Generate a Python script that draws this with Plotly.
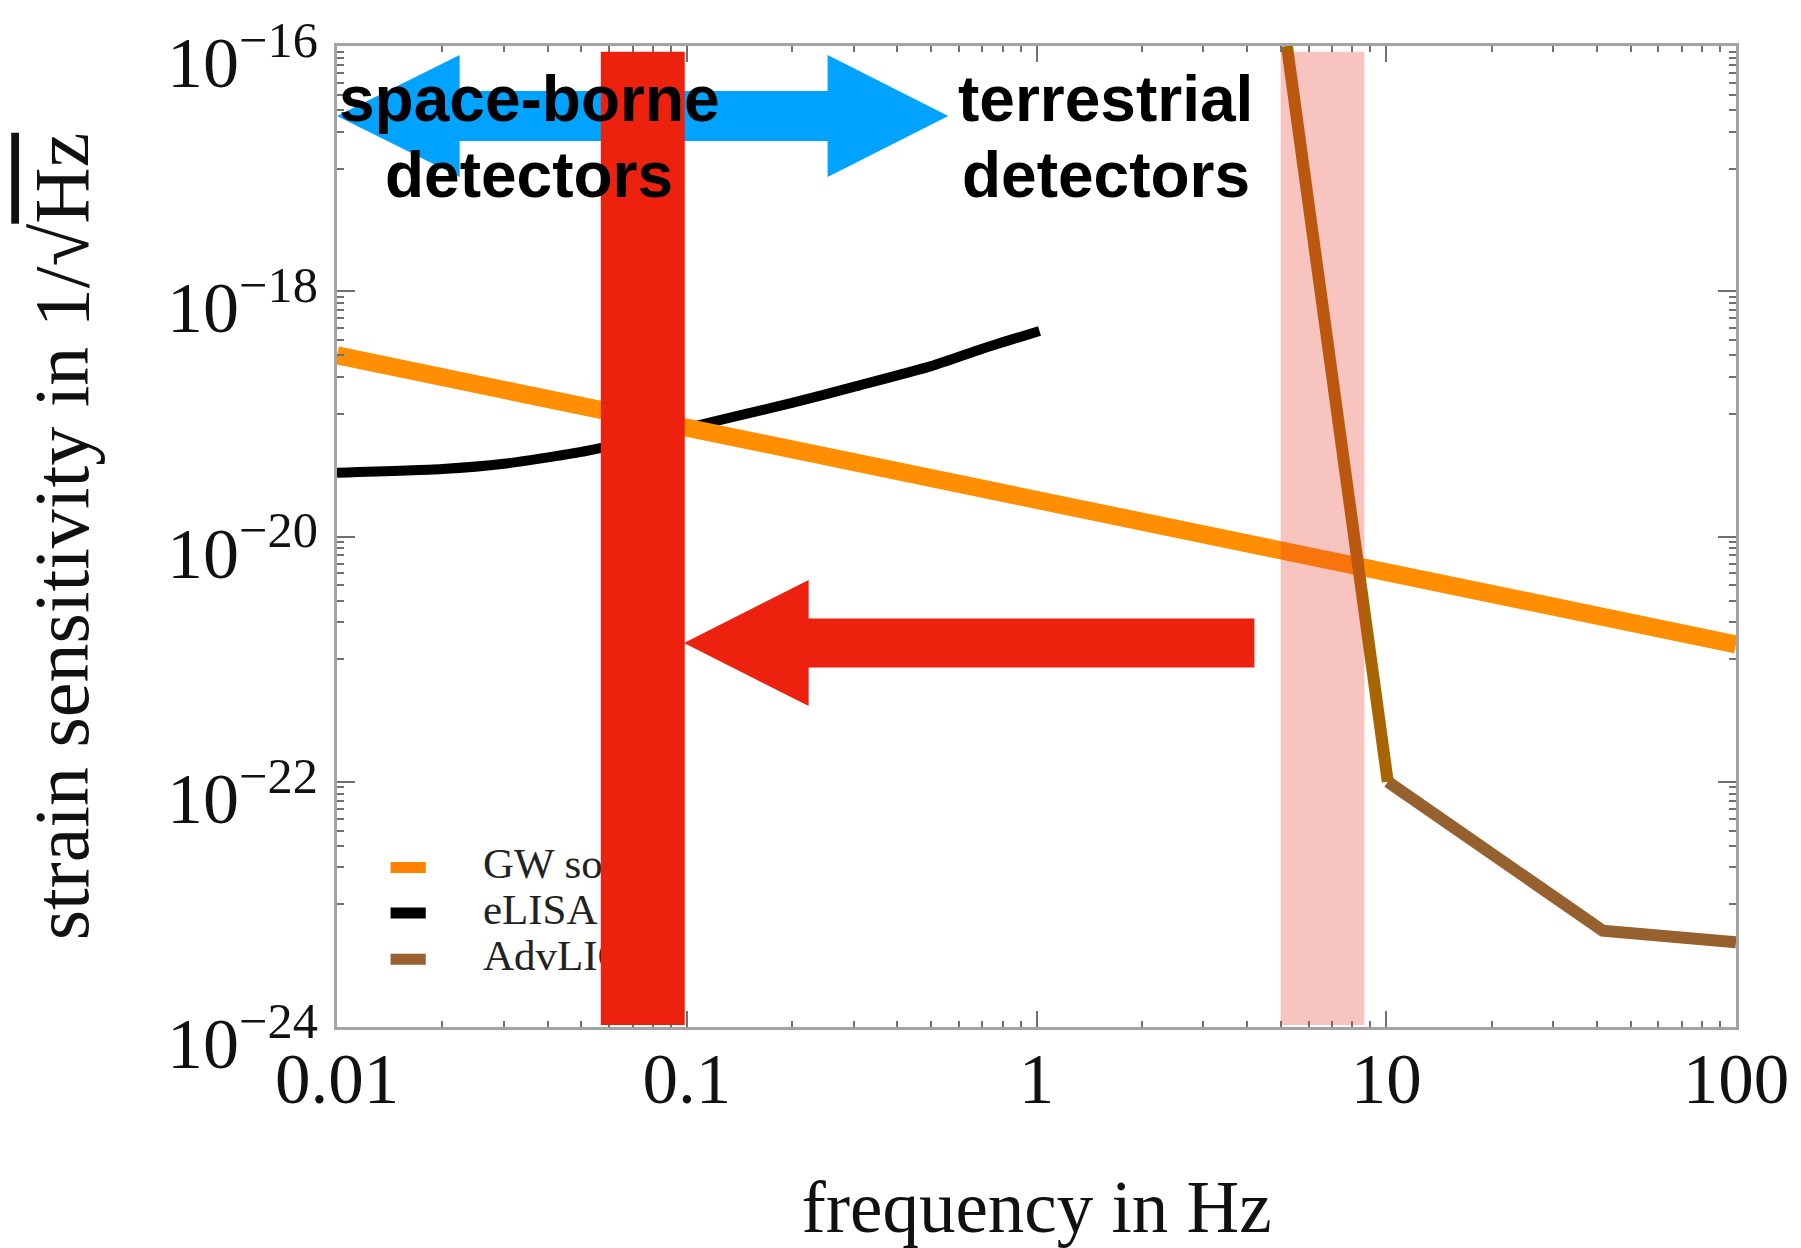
import plotly.graph_objects as go

# ---------------- data ----------------
gw_freq = [0.01, 0.1, 1, 10, 100]
gw_strain = [3.0e-19, 7.7e-20, 2.0e-20, 5.1e-21, 1.32e-21]

elisa_freq = [0.01, 0.02, 0.03, 0.05, 0.07, 0.1, 0.2, 0.3, 0.5, 0.7, 1.02]
elisa_strain = [3.31e-20, 3.55e-20, 3.92e-20, 4.9e-20, 6.03e-20, 7.67e-20,
                1.23e-19, 1.66e-19, 2.45e-19, 3.39e-19, 4.75e-19]

advligo_freq = [5.2, 10.1, 41.6, 100]
advligo_strain = [1.0e-16, 1.0e-22, 6.1e-24, 4.9e-24]

space_band = [0.0568, 0.0987]     # red highlighted band (Hz)
ground_band = [4.99, 8.66]        # pink band (Hz)

series_names = ["GW source", "eLISA", "AdvLIGO"]

x_tickvals = [0.01, 0.1, 1, 10, 100]
x_ticktext = ["0.01", "0.1", "1", "10", "100"]
y_tickvals = [1e-24, 1e-22, 1e-20, 1e-18, 1e-16]
y_ticktext = ["10<sup>\u221224</sup>", "10<sup>\u221222</sup>", "10<sup>\u221220</sup>",
              "10<sup>\u221218</sup>", "10<sup>\u221216</sup>"]

x_minor = [k * 10.0 ** n for n in (-2, -1, 0, 1) for k in range(2, 10)]
y_minor = [k * 10.0 ** n for n in (-17, -19, -21, -23) for k in range(1, 10)]

# ---------------- styling ----------------
W, H = 1801, 1248
ML, MR, MT, MB = 337, 61, 46, 221
PW, PH = W - ML - MR, H - MT - MB

def px(x):
    return (x - ML) / PW

def py(y):
    return (H - MB - y) / PH

ORANGE = "#FF8F00"
ORANGE_KEY = "#FF8000"
BROWN_STEEP = "#A86400"
BROWN = "#97602F"
RED = "#ED220E"
BLUE = "#00A3FF"
SERIF = "Liberation Serif"
SANS = "Liberation Sans"

fig = go.Figure()

fig.add_trace(go.Scatter(x=elisa_freq, y=elisa_strain, mode="lines", name=series_names[1],
                         line=dict(color="#000000", width=10, shape="spline", smoothing=0.6),
                         showlegend=False))
fig.add_trace(go.Scatter(x=gw_freq, y=gw_strain, mode="lines", name=series_names[0],
                         line=dict(color=ORANGE, width=18), showlegend=False))
fig.add_trace(go.Scatter(x=advligo_freq[1:], y=advligo_strain[1:], mode="lines", name=series_names[2],
                         line=dict(color=BROWN, width=12), showlegend=False))
fig.add_trace(go.Scatter(x=advligo_freq[:2], y=advligo_strain[:2], mode="lines", name=series_names[2],
                         line=dict(color=BROWN_STEEP, width=12), showlegend=False))

# manual legend (drawn as traces so the red band can cover it, as in the reference)
key_x = [0.01423, 0.01794]
key_text_x = 0.02613
key_rows = [2.0e-23, 8.5e-24, 3.57e-24]
key_colors = [ORANGE_KEY, "#000000", "#9B6030"]
for name, yk, col in zip(series_names, key_rows, key_colors):
    fig.add_trace(go.Scatter(x=key_x, y=[yk, yk], mode="lines", line=dict(color=col, width=11),
                             showlegend=False, hoverinfo="skip"))
fig.add_trace(go.Scatter(x=[key_text_x] * 3, y=key_rows, mode="text", text=series_names,
                         textposition="middle right",
                         textfont=dict(family=SERIF, size=43, color="#222222"),
                         showlegend=False, hoverinfo="skip"))

shapes = []
# pink band (semi-transparent, above the curves)
shapes.append(dict(type="rect", xref="x", yref="paper", x0=ground_band[0], x1=ground_band[1],
                   y0=py(1025), y1=py(51.7), fillcolor="rgba(232,58,48,0.30)",
                   line=dict(width=0), layer="above"))

# blue double arrow
cy, hh, sh = 116, 61, 25
blue_pts = [(337, cy), (460, cy - hh), (460, cy - sh), (829, cy - sh), (829, cy - hh), (950, cy),
            (829, cy + hh), (829, cy + sh), (460, cy + sh), (460, cy + hh)]
path = "M " + " L ".join(f"{px(a):.5f},{py(b):.5f}" for a, b in blue_pts) + " Z"
shapes.append(dict(type="path", xref="paper", yref="paper", path=path, fillcolor=BLUE,
                   line=dict(width=0), layer="above"))

# red band
shapes.append(dict(type="rect", xref="x", yref="paper", x0=space_band[0], x1=space_band[1],
                   y0=py(1025), y1=py(51.7), fillcolor=RED, line=dict(width=0), layer="above"))

# red arrow
cy, hh, sh = 643, 63, 24.5
red_pts = [(685, cy), (810, cy - hh), (810, cy - sh), (1257, cy - sh), (1257, cy + sh),
           (810, cy + sh), (810, cy + hh)]
path = "M " + " L ".join(f"{px(a):.5f},{py(b):.5f}" for a, b in red_pts) + " Z"
shapes.append(dict(type="path", xref="paper", yref="paper", path=path, fillcolor=RED,
                   line=dict(width=0), layer="above"))

# bold labels
FS = 64
def mid(baseline):
    return py(baseline - 0.3465 * FS)

annotations = []
for text, xc, base in [("space-borne", 530, 121), ("detectors", 530, 197),
                       ("terrestrial", 1108, 121), ("detectors", 1108, 197)]:
    annotations.append(dict(text=text, xref="paper", yref="paper", x=px(xc), y=mid(base),
                            xanchor="center", yanchor="middle", showarrow=False,
                            font=dict(family=SANS, size=FS, color="#000000", weight="bold")))

axis_common = dict(showgrid=False, zeroline=False, showline=True, linecolor="#a3a3a3",
                   linewidth=2.5, mirror="ticks", ticks="inside", tickcolor="#707070",
                   tickwidth=2)

fig.update_layout(
    width=W, height=H,
    margin=dict(l=ML, r=MR, t=MT, b=MB),
    paper_bgcolor="white", plot_bgcolor="white",
    shapes=shapes, annotations=annotations,
    xaxis=dict(type="log", range=[-2, 2], tickmode="array", tickvals=x_tickvals,
               ticktext=x_ticktext, ticklen=16,
               tickfont=dict(family=SERIF, size=71, color="#111111"),
               ticklabelstandoff=-12,
               minor=dict(tickmode="array", tickvals=x_minor, ticks="inside", ticklen=6,
                          tickwidth=1.5, tickcolor="#707070", showgrid=False),
               title=dict(text="frequency in Hz", standoff=66,
                          font=dict(family=SERIF, size=73, color="#111111")),
               **axis_common),
    yaxis=dict(type="log", range=[-24, -16], tickmode="array", tickvals=y_tickvals,
               ticktext=y_ticktext, ticklen=18,
               tickfont=dict(family=SERIF, size=72, color="#111111"),
               ticklabelstandoff=2, ticklabelshift=16,
               minor=dict(tickmode="array", tickvals=y_minor, ticks="inside", ticklen=7,
                          tickwidth=1.5, tickcolor="#707070", showgrid=False),
               title=dict(text="strain sensitivity in 1/\u221a<span style='text-decoration:overline'>Hz</span>",
                          standoff=53, font=dict(family=SERIF, size=78, color="#111111")),
               **axis_common),
)

fig.write_html("out.html")
